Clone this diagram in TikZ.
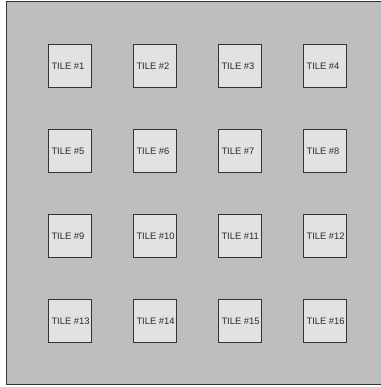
\documentclass[tikz,border=0pt]{standalone}
\usepackage{fontspec}
\setmainfont{Liberation Sans}
\definecolor{bggray}{HTML}{BEBEBE}
\definecolor{tilefill}{HTML}{E2E2E2}
\definecolor{edgedark}{HTML}{333333}
\definecolor{txt}{HTML}{2A2A2A}
\tikzset{
  tilebox/.style={draw=edgedark, line width=1.4pt, fill=tilefill, minimum width=43pt, minimum height=43pt, inner sep=0pt},
  tilelabel/.style={anchor=west, inner sep=0pt, text=txt, font=\fontsize{9.4}{11}\selectfont},
  panel/.style={draw=edgedark, line width=1pt, fill=bggray}
}
\begin{document}
\begin{tikzpicture}[x=1pt,y=-1pt]
\useasboundingbox (0,0) rectangle (380,387);
\fill[white] (0,0) rectangle (380,387);
\draw[panel] (6.5,2) rectangle (382,384);
\foreach \r in {0,1,2,3}{
  \foreach \c in {0,1,2,3}{
    \pgfmathtruncatemacro{\n}{\r*4+\c+1}
    \node[tilebox] (tile\n) at ({70+85*\c},{66+85*\r}) {};
    \node[tilelabel] (lab\n) at ([xshift=3.5pt]tile\n.west) {TILE \#\n};
  }
}
\end{tikzpicture}
\end{document}
